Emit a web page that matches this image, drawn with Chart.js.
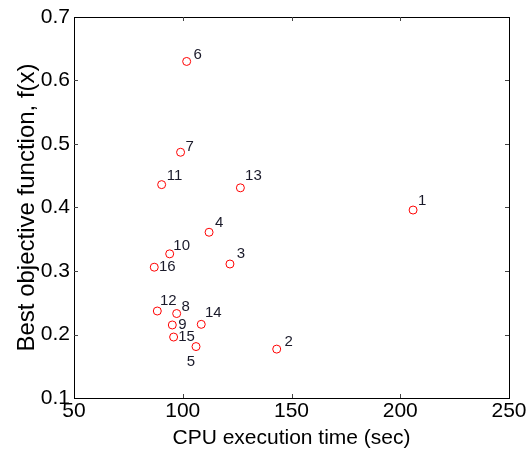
<!DOCTYPE html>
<html><head><meta charset="utf-8">
<script src="https://cdn.jsdelivr.net/npm/chart.js@4"></script>
<style>html,body{margin:0;padding:0;background:#fff}#wrap{width:531px;height:451px}</style>
</head><body><div id="wrap"><canvas id="c" width="531" height="451"></canvas></div>
<script>
const pointLabels = ["1","2","3","4","5","6","7","8","9","10","11","12","13","14","15","16"];
const cpuTime = [205.9,143.2,121.7,112.1,106.1,101.8,99.0,97.2,95.2,94.0,90.3,88.3,126.5,108.5,95.8,86.9];
const bestObjective = [0.396,0.177,0.311,0.361,0.181,0.630,0.487,0.233,0.215,0.327,0.436,0.237,0.431,0.216,0.196,0.306];
const xTicks = [50,100,150,200,250];
const yTicks = [0.1,0.2,0.3,0.4,0.5,0.6,0.7];

// label placement (pixel offsets from each marker)
const labelOffsets = {
  "1":[9,-9],"2":[12,-7],"3":[11,-10],"4":[10,-9],"5":[-5,15],"6":[11,-7],"7":[9,-5],
  "8":[9,-7],"9":[10,0],"10":[12,-8],"11":[13,-9],"12":[11,-10],"13":[13,-12],
  "14":[12,-11],"15":[13,0],"16":[13,0]
};

const FONT = "'Liberation Sans', Arial, sans-serif";

const framePlugin = {
  id: 'frame',
  afterDraw(chart) {
    const ctx = chart.ctx, a = chart.chartArea;
    const xs = chart.scales.x, ys = chart.scales.y;
    ctx.save();
    ctx.strokeStyle = '#000';
    ctx.lineWidth = 1;
    ctx.strokeRect(Math.round(a.left)+0.5, Math.round(a.top)+0.5, Math.round(a.right-a.left), Math.round(a.bottom-a.top));
    ctx.strokeStyle = '#444';
    ctx.beginPath();
    xTicks.slice(1,-1).forEach(v => {
      const px = Math.round(xs.getPixelForValue(v))+0.5;
      ctx.moveTo(px, a.bottom); ctx.lineTo(px, a.bottom-4);
      ctx.moveTo(px, a.top); ctx.lineTo(px, a.top+4);
    });
    yTicks.slice(1,-1).forEach(v => {
      const py = Math.round(ys.getPixelForValue(v))+0.5;
      ctx.moveTo(a.left, py); ctx.lineTo(a.left+4, py);
      ctx.moveTo(a.right, py); ctx.lineTo(a.right-4, py);
    });
    ctx.stroke();
    // point labels
    const meta = chart.getDatasetMeta(0);
    ctx.fillStyle = '#1a1a2a';
    ctx.font = '15px ' + FONT;
    ctx.textAlign = 'center';
    ctx.textBaseline = 'middle';
    meta.data.forEach((el, i) => {
      const lab = pointLabels[i];
      const off = labelOffsets[lab] || [10,-8];
      ctx.fillText(lab, el.x + off[0], el.y + off[1]);
    });
    ctx.restore();
  }
};

new Chart(document.getElementById('c'), {
  type: 'scatter',
  data: {
    datasets: [{
      data: cpuTime.map((x, i) => ({x: x, y: bestObjective[i]})),
      pointStyle: 'circle',
      pointRadius: 4,
      pointBorderColor: '#ff0000',
      pointBackgroundColor: 'rgba(0,0,0,0)',
      pointBorderWidth: 1,
      showLine: false
    }]
  },
  options: {
    responsive: false,
    animation: false,
    events: [],
    layout: { padding: { left: 0, right: 22, top: 17, bottom: 0 } },
    plugins: { legend: { display: false }, tooltip: { enabled: false } },
    scales: {
      x: {
        type: 'linear', min: 50, max: 250,
        afterBuildTicks: s => { s.ticks = xTicks.map(v => ({value: v})); },
        afterFit: s => { s.height = 53; },
        grid: { display: false, drawTicks: false },
        border: { display: false },
        ticks: { color: '#000', font: { size: 21, family: FONT }, padding: 1, maxRotation: 0, autoSkip: false },
        title: { display: true, text: 'CPU execution time (sec)', color: '#000', font: { size: 21, family: FONT }, padding: { top: 0, bottom: 0 } }
      },
      y: {
        type: 'linear', min: 0.1, max: 0.7,
        afterBuildTicks: s => { s.ticks = yTicks.map(v => ({value: v})); },
        afterFit: s => { s.width = 74; },
        grid: { display: false, drawTicks: false },
        border: { display: false },
        ticks: { color: '#000', font: { size: 21, family: FONT }, padding: 4, autoSkip: false, callback: v => v.toFixed(1) },
        title: { display: true, text: 'Best objective function, f(x)', color: '#000', font: { size: 24, family: FONT }, padding: { top: 13, bottom: 0 } }
      }
    }
  },
  plugins: [framePlugin]
});
</script></body></html>
